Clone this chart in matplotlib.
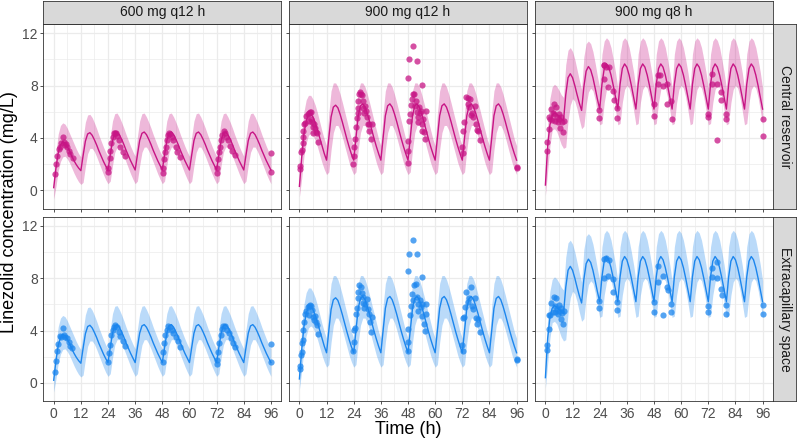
import numpy as np
import matplotlib
matplotlib.use("Agg")
import matplotlib.pyplot as plt

plt.rcParams["font.family"] = ["Liberation Sans", "DejaVu Sans"]

regimens = ["600 mg q12 h", "900 mg q12 h", "900 mg q8 h"]
compartments = ["Central reservoir", "Extracapillary space"]

# model prediction grid (h)
model_time_h = np.arange(0, 97)

# 600 mg q12 h: median and 90% band (mg/L), hourly
med_600_q12 = [
    0.2, 1.7, 2.85, 3.45, 3.7, 3.6, 3.35, 3.0, 2.6, 2.25, 1.95, 1.7,
    1.5, 2.65, 3.75, 4.3, 4.4, 4.2, 3.85, 3.45, 3.0, 2.6, 2.2, 1.85,
    1.55, 2.7, 3.8, 4.35, 4.45, 4.25, 3.9, 3.5, 3.05, 2.65, 2.25, 1.9,
    1.55, 2.7, 3.8, 4.35, 4.45, 4.25, 3.9, 3.5, 3.05, 2.65, 2.25, 1.9,
    1.55, 2.7, 3.8, 4.35, 4.45, 4.25, 3.9, 3.5, 3.05, 2.65, 2.25, 1.9,
    1.55, 2.7, 3.8, 4.35, 4.45, 4.25, 3.9, 3.5, 3.05, 2.65, 2.25, 1.9,
    1.55, 2.7, 3.8, 4.35, 4.45, 4.25, 3.9, 3.5, 3.05, 2.65, 2.25, 1.9,
    1.55, 2.7, 3.8, 4.35, 4.45, 4.25, 3.9, 3.5, 3.05, 2.65, 2.25, 1.9,
    1.55,
]
lo_600_q12 = [
    -0.7, 0.3, 1.5, 2.2, 2.55, 2.6, 2.4, 2.1, 1.7, 1.3, 0.95, 0.65,
    0.45, 0.6, 1.8, 2.8, 3.2, 3.2, 2.95, 2.55, 2.1, 1.65, 1.2, 0.8,
    0.5, 0.7, 1.9, 2.9, 3.3, 3.3, 3.0, 2.6, 2.15, 1.7, 1.25, 0.85,
    0.5, 0.7, 1.9, 2.9, 3.3, 3.3, 3.0, 2.6, 2.15, 1.7, 1.25, 0.85,
    0.5, 0.7, 1.9, 2.9, 3.3, 3.3, 3.0, 2.6, 2.15, 1.7, 1.25, 0.85,
    0.5, 0.7, 1.9, 2.9, 3.3, 3.3, 3.0, 2.6, 2.15, 1.7, 1.25, 0.85,
    0.5, 0.7, 1.9, 2.9, 3.3, 3.3, 3.0, 2.6, 2.15, 1.7, 1.25, 0.85,
    0.5, 0.7, 1.9, 2.9, 3.3, 3.3, 3.0, 2.6, 2.15, 1.7, 1.25, 0.85,
    0.5,
]
hi_600_q12 = [
    0.9, 2.9, 4.3, 4.95, 5.15, 5.05, 4.75, 4.35, 3.95, 3.55, 3.15, 2.8,
    2.55, 4.0, 5.2, 5.75, 5.8, 5.55, 5.15, 4.7, 4.2, 3.75, 3.3, 2.9,
    2.6, 4.1, 5.3, 5.85, 5.9, 5.6, 5.2, 4.75, 4.25, 3.8, 3.35, 2.95,
    2.6, 4.1, 5.3, 5.85, 5.9, 5.6, 5.2, 4.75, 4.25, 3.8, 3.35, 2.95,
    2.6, 4.1, 5.3, 5.85, 5.9, 5.6, 5.2, 4.75, 4.25, 3.8, 3.35, 2.95,
    2.6, 4.1, 5.3, 5.85, 5.9, 5.6, 5.2, 4.75, 4.25, 3.8, 3.35, 2.95,
    2.6, 4.1, 5.3, 5.85, 5.9, 5.6, 5.2, 4.75, 4.25, 3.8, 3.35, 2.95,
    2.6, 4.1, 5.3, 5.85, 5.9, 5.6, 5.2, 4.75, 4.25, 3.8, 3.35, 2.95,
    2.6,
]

# 900 mg q12 h
med_900_q12 = [
    0.3, 2.5, 4.3, 5.3, 5.8, 5.85, 5.6, 5.15, 4.6, 4.0, 3.4, 2.8,
    2.3, 4.0, 5.6, 6.35, 6.5, 6.3, 5.8, 5.2, 4.55, 3.9, 3.3, 2.75,
    2.3, 4.0, 5.7, 6.45, 6.6, 6.35, 5.85, 5.25, 4.6, 3.95, 3.35, 2.8,
    2.3, 4.0, 5.7, 6.45, 6.6, 6.35, 5.85, 5.25, 4.6, 3.95, 3.35, 2.8,
    2.3, 4.0, 5.7, 6.45, 6.6, 6.35, 5.85, 5.25, 4.6, 3.95, 3.35, 2.8,
    2.3, 4.0, 5.7, 6.45, 6.6, 6.35, 5.85, 5.25, 4.6, 3.95, 3.35, 2.8,
    2.3, 4.0, 5.7, 6.45, 6.6, 6.35, 5.85, 5.25, 4.6, 3.95, 3.35, 2.8,
    2.3, 4.0, 5.7, 6.45, 6.6, 6.35, 5.85, 5.25, 4.6, 3.95, 3.35, 2.8,
    2.3,
]
lo_900_q12 = [
    -0.5, 0.9, 2.6, 3.6, 4.2, 4.35, 4.2, 3.8, 3.3, 2.7, 2.1, 1.6,
    1.2, 1.4, 3.1, 4.4, 4.95, 4.95, 4.6, 4.05, 3.4, 2.75, 2.1, 1.6,
    1.2, 1.4, 3.1, 4.4, 4.95, 4.95, 4.6, 4.05, 3.4, 2.75, 2.1, 1.6,
    1.2, 1.4, 3.1, 4.4, 4.95, 4.95, 4.6, 4.05, 3.4, 2.75, 2.1, 1.6,
    1.2, 1.4, 3.1, 4.4, 4.95, 4.95, 4.6, 4.05, 3.4, 2.75, 2.1, 1.6,
    1.2, 1.4, 3.1, 4.4, 4.95, 4.95, 4.6, 4.05, 3.4, 2.75, 2.1, 1.6,
    1.2, 1.4, 3.1, 4.4, 4.95, 4.95, 4.6, 4.05, 3.4, 2.75, 2.1, 1.6,
    1.2, 1.4, 3.1, 4.4, 4.95, 4.95, 4.6, 4.05, 3.4, 2.75, 2.1, 1.6,
    1.2,
]
hi_900_q12 = [
    1.2, 4.2, 6.0, 6.9, 7.25, 7.25, 6.95, 6.5, 5.9, 5.2, 4.5, 3.9,
    3.4, 5.9, 7.6, 8.2, 8.2, 7.9, 7.35, 6.7, 6.0, 5.3, 4.6, 3.9,
    3.4, 5.9, 7.6, 8.2, 8.2, 7.9, 7.35, 6.7, 6.0, 5.3, 4.6, 3.9,
    3.4, 5.9, 7.6, 8.2, 8.2, 7.9, 7.35, 6.7, 6.0, 5.3, 4.6, 3.9,
    3.4, 5.9, 7.6, 8.2, 8.2, 7.9, 7.35, 6.7, 6.0, 5.3, 4.6, 3.9,
    3.4, 5.9, 7.6, 8.2, 8.2, 7.9, 7.35, 6.7, 6.0, 5.3, 4.6, 3.9,
    3.4, 5.9, 7.6, 8.2, 8.2, 7.9, 7.35, 6.7, 6.0, 5.3, 4.6, 3.9,
    3.4, 5.9, 7.6, 8.2, 8.2, 7.9, 7.35, 6.7, 6.0, 5.3, 4.6, 3.9,
    3.4,
]

# 900 mg q8 h
med_900_q8 = [
    0.4, 3.4, 5.0, 5.7, 5.9, 5.8, 5.6, 5.45,
    5.3, 7.3, 8.6, 8.9, 8.6, 8.0, 7.3, 6.65,
    6.1, 7.9, 9.1, 9.45, 9.2, 8.6, 7.8, 6.95,
    6.2, 8.1, 9.3, 9.65, 9.4, 8.8, 8.0, 7.1,
    6.2, 8.1, 9.3, 9.65, 9.4, 8.8, 8.0, 7.1,
    6.2, 8.1, 9.3, 9.65, 9.4, 8.8, 8.0, 7.1,
    6.2, 8.1, 9.3, 9.65, 9.4, 8.8, 8.0, 7.1,
    6.2, 8.1, 9.3, 9.65, 9.4, 8.8, 8.0, 7.1,
    6.2, 8.1, 9.3, 9.65, 9.4, 8.8, 8.0, 7.1,
    6.2, 8.1, 9.3, 9.65, 9.4, 8.8, 8.0, 7.1,
    6.2, 8.1, 9.3, 9.65, 9.4, 8.8, 8.0, 7.1,
    6.2, 8.1, 9.3, 9.65, 9.4, 8.8, 8.0, 7.1,
    6.2,
]
lo_900_q8 = [
    -0.4, 1.5, 3.4, 4.6, 4.7, 4.5, 4.0, 3.5,
    3.2, 3.3, 5.3, 6.5, 7.0, 6.8, 6.2, 5.4,
    4.7, 4.9, 6.5, 7.5, 7.8, 7.6, 6.9, 5.9,
    5.0, 5.1, 6.7, 7.7, 8.0, 7.8, 7.1, 6.1,
    5.0, 5.1, 6.7, 7.7, 8.0, 7.8, 7.1, 6.1,
    5.0, 5.1, 6.7, 7.7, 8.0, 7.8, 7.1, 6.1,
    5.0, 5.1, 6.7, 7.7, 8.0, 7.8, 7.1, 6.1,
    5.0, 5.1, 6.7, 7.7, 8.0, 7.8, 7.1, 6.1,
    5.0, 5.1, 6.7, 7.7, 8.0, 7.8, 7.1, 6.1,
    5.0, 5.1, 6.7, 7.7, 8.0, 7.8, 7.1, 6.1,
    5.0, 5.1, 6.7, 7.7, 8.0, 7.8, 7.1, 6.1,
    5.0, 5.1, 6.7, 7.7, 8.0, 7.8, 7.1, 6.1,
    5.0,
]
hi_900_q8 = [
    1.2, 5.0, 7.0, 7.9, 8.1, 7.95, 7.65, 7.3,
    7.1, 9.6, 10.7, 10.9, 10.6, 10.0, 9.2, 8.4,
    7.7, 10.2, 11.2, 11.4, 11.2, 10.6, 9.7, 8.7,
    7.8, 10.4, 11.4, 11.65, 11.45, 10.9, 10.0, 9.0,
    7.8, 10.4, 11.4, 11.65, 11.45, 10.9, 10.0, 9.0,
    7.8, 10.4, 11.4, 11.65, 11.45, 10.9, 10.0, 9.0,
    7.8, 10.4, 11.4, 11.65, 11.45, 10.9, 10.0, 9.0,
    7.8, 10.4, 11.4, 11.65, 11.45, 10.9, 10.0, 9.0,
    7.8, 10.4, 11.4, 11.65, 11.45, 10.9, 10.0, 9.0,
    7.8, 10.4, 11.4, 11.65, 11.45, 10.9, 10.0, 9.0,
    7.8, 10.4, 11.4, 11.65, 11.45, 10.9, 10.0, 9.0,
    7.8, 10.4, 11.4, 11.65, 11.45, 10.9, 10.0, 9.0,
    7.8,
]

# observed concentrations (time h, conc mg/L)
obs_600_q12_central_t = [
    0.44, 1.03, 1.47, 2.2, 2.65, 3.39, 3.97, 4.4, 4.85, 5.4, 5.9, 6.6, 7.4, 8.4,
    24.0, 24.1, 24.7, 25.0, 25.4, 26.0, 26.5, 26.9, 27.5, 27.9, 28.7, 29.4, 30.6, 31.6,
    48.1, 48.4, 48.8, 49.1, 49.5, 50.0, 50.5, 51.0, 51.6, 52.2, 52.9, 54.0, 54.7, 55.9,
    72.0, 72.3, 72.8, 73.2, 73.6, 74.1, 74.5, 75.1, 75.7, 76.3, 77.0, 77.9, 78.9, 80.0,
    96, 96,
]
obs_600_q12_central_c = [
    1.27, 2.04, 2.65, 3.16, 3.34, 3.6, 4.05, 3.72, 3.47, 3.55, 3.34, 3.03, 2.77, 2.49,
    1.4, 1.68, 2.5, 3.03, 3.6, 4.1, 4.36, 4.41, 4.36, 4.15, 3.85, 3.34, 2.96, 2.62,
    1.35, 1.73, 2.38, 2.89, 3.34, 3.85, 4.24, 4.41, 4.31, 4.1, 3.85, 3.34, 2.96, 2.57,
    1.3, 1.68, 2.38, 2.89, 3.34, 3.85, 4.24, 4.49, 4.36, 4.1, 3.85, 3.39, 3.03, 2.67,
    2.83, 1.43,
]
obs_600_q12_extra_t = [
    0.44, 1.03, 1.47, 2.05, 2.65, 3.4, 3.97, 4.4, 5.1, 5.9, 6.6, 7.4, 8.1,
    24.0, 24.3, 24.7, 25.4, 26.0, 26.7, 27.3, 27.9, 28.7, 29.4, 30.5, 31.6,
    48.1, 48.4, 48.8, 49.4, 50.0, 50.7, 51.5, 52.2, 52.9, 54.0, 54.8, 55.9,
    72.0, 72.3, 72.8, 73.2, 73.8, 74.4, 75.0, 75.7, 76.4, 77.3, 78.2, 79.1, 80.0,
    96, 96,
]
obs_600_q12_extra_c = [
    0.82, 1.70, 2.47, 2.98, 3.6, 3.53, 4.17, 3.66, 3.53, 3.41, 3.15, 2.82, 2.64,
    1.63, 2.27, 2.9, 3.66, 4.04, 4.3, 4.42, 4.3, 3.92, 3.59, 3.23, 2.82,
    1.63, 2.39, 3.03, 3.66, 4.04, 4.35, 4.25, 4.04, 3.84, 3.48, 3.23, 2.72,
    1.45, 1.76, 2.39, 3.03, 3.66, 4.09, 4.35, 4.35, 4.04, 3.79, 3.41, 3.08, 2.72,
    2.98, 1.63,
]

obs_900_q12_central_t = [
    0.44, 0.44, 0.9, 1.0, 1.5, 1.76, 1.76, 2.2, 2.6, 2.9, 3.7, 4.1, 4.4, 4.7, 5.1,
    5.3, 5.6, 5.9, 6.2, 6.6, 7.1, 7.35, 7.8, 8.1,
    23.6, 24.0, 24.3, 24.7, 25.0, 25.3, 25.7, 25.7, 26.0, 26.5, 26.9, 27.4, 27.6,
    27.9, 28.2, 28.7, 29.1, 29.4, 29.9, 30.1, 30.6, 30.9, 31.6, 32.1,
    47.9, 48.1, 48.2, 48.5, 48.8, 49.3, 49.7, 50.3, 50.7, 51.2, 51.5, 51.9, 52.2,
    52.6, 52.9, 53.2, 53.7, 54.1, 54.4, 54.7, 55.1, 55.6, 55.9,
    48.0, 48.4, 50.0, 51.9, 54.0,
    71.8, 72.1, 72.1, 72.8, 73.5, 74.3, 74.7, 75.0, 75.4, 75.7, 76.2, 76.8, 77.6,
    77.9, 78.7, 79.1, 79.9,
    96, 96,
]
obs_900_q12_central_c = [
    1.63, 1.88, 2.9, 3.08, 3.59, 4.05, 4.56, 5.07, 5.12, 5.7, 5.83, 5.32, 5.88, 5.96, 6.01,
    5.45, 5.2, 4.81, 4.4, 5.07, 4.74, 4.43, 4.35, 3.71,
    2.0, 2.64, 3.33, 3.92, 4.81, 5.53, 5.88, 6.26, 6.85, 7.36, 7.49, 7.36, 7.31,
    6.8, 6.26, 5.88, 6.47, 6.04, 5.58, 5.07, 5.07, 4.56, 3.92, 5.04,
    2.06, 3.03, 3.79, 5.32, 5.83, 6.52, 6.98, 7.36, 7.36, 6.47, 6.85, 5.96, 5.58,
    5.2, 6.34, 5.88, 6.09, 5.07, 4.56, 5.45, 4.43, 3.92, 6.04,
    8.6, 10.04, 11.0, 9.86, 8.07,
    3.29, 2.83, 4.5, 5.2, 7.16, 6.6, 7.06, 6.34, 6.98, 5.76, 5.88, 5.58, 6.47,
    5.07, 4.61, 4.5, 3.84,
    1.8, 1.7,
]
obs_900_q12_extra_t = [
    0.44, 0.44, 0.9, 1.0, 1.2, 1.5, 1.8, 2.2, 2.6, 2.9, 3.7, 4.1, 4.4, 4.7, 5.1,
    5.6, 5.9, 6.3, 6.8, 7.35, 7.8, 8.1,
    23.6, 24.0, 24.3, 24.7, 25.0, 25.4, 25.7, 26.0, 26.5, 27.2, 27.6, 27.9, 28.2,
    28.7, 29.1, 29.7, 30.1, 30.6, 31.2, 31.6, 32.1,
    47.9, 48.1, 48.2, 48.8, 49.3, 49.7, 50.3, 50.7, 51.5, 51.9, 52.2, 52.6, 53.2,
    53.7, 54.1, 54.4, 54.9, 55.6, 55.9, 55.9,
    48.0, 48.4, 50.0, 51.9, 54.0,
    71.8, 72.1, 72.1, 72.8, 73.2, 73.5, 74.3, 75.0, 75.7, 76.2, 76.8, 77.6, 77.9,
    78.7, 79.1, 79.9,
    96, 96,
]
obs_900_q12_extra_c = [
    1.09, 1.27, 2.11, 2.37, 3.05, 3.26, 4.02, 4.66, 5.29, 5.5, 5.8, 5.17, 5.85, 5.93, 5.85,
    5.55, 5.04, 4.78, 5.09, 4.66, 4.4, 3.72,
    2.41, 3.13, 4.02, 4.22, 5.29, 5.75, 6.51, 6.94, 7.45, 7.33, 6.87, 6.56, 6.11,
    5.75, 6.0, 6.44, 5.67, 5.24, 4.66, 3.9, 5.04,
    2.41, 3.13, 4.15, 5.17, 5.85, 6.82, 6.31, 7.51, 7.58, 6.56, 6.0, 5.5, 6.36,
    5.8, 5.09, 6.0, 4.53, 3.95, 6.0, 5.29,
    8.55, 9.87, 10.94, 9.82, 8.09,
    2.87, 2.41, 4.99, 5.04, 5.8, 6.94, 6.18, 6.51, 7.33, 5.85, 5.67, 6.51, 4.99,
    4.48, 4.91, 3.9,
    1.85, 1.72,
]

obs_900_q8_central_t = [
    0.7, 0.7, 1.8, 1.8, 2.2, 2.6, 2.9, 3.2, 3.7, 4.0, 4.4, 4.7, 5.1, 5.6, 5.9,
    6.2, 6.6, 7.1, 7.35, 7.8, 8.1,
    23.8, 23.8, 25.7, 25.7, 26.0, 26.8, 27.6, 27.9, 29.7, 30.1, 31.6, 31.6,
    47.8, 47.8, 49.7, 49.7, 50.7, 51.9, 53.8, 53.7, 55.6, 55.9,
    71.8, 71.8, 73.5, 73.5, 75.7, 75.7, 77.6, 77.6, 79.7, 79.7,
    96, 96,
]
obs_900_q8_central_c = [
    3.0, 3.67, 4.68, 5.58, 5.45, 6.21, 5.37, 5.88, 6.6, 5.83, 5.32, 6.39, 5.63, 5.2, 5.83,
    5.45, 4.76, 5.58, 5.2, 4.43, 5.27,
    6.16, 5.5, 9.6, 8.5, 9.6, 9.45, 7.87, 9.4, 7.56, 6.9, 6.29, 5.5,
    6.6, 5.68, 8.78, 8.15, 8.78, 8.0, 8.15, 6.6, 6.82, 5.45,
    5.83, 5.58, 8.9, 8.1, 8.1, 3.86, 7.48, 6.9, 5.83, 5.45,
    5.45, 4.17,
]
obs_900_q8_extra_t = [
    0.7, 0.7, 1.8, 1.8, 2.2, 2.6, 3.2, 3.7, 4.1, 4.4, 4.9, 5.1, 5.6, 5.9, 6.2,
    6.8, 7.1, 7.35, 7.8, 8.1,
    23.8, 23.8, 25.7, 25.7, 26.8, 27.9, 27.6, 29.7, 29.7, 31.6, 31.6,
    47.8, 47.8, 49.7, 49.7, 51.8, 51.8, 53.7, 54.0, 55.6, 55.6,
    71.8, 71.8, 73.5, 73.8, 75.7, 75.7, 77.6, 77.9, 79.7, 79.7,
    96, 96,
]
obs_900_q8_extra_c = [
    2.54, 2.87, 4.15, 5.17, 5.17, 6.11, 5.42, 6.56, 5.85, 5.42, 6.51, 5.67, 5.29, 5.93, 5.5,
    4.91, 5.75, 5.34, 4.48, 5.5,
    6.26, 5.75, 9.49, 8.02, 9.57, 9.36, 8.14, 7.96, 6.94, 6.18, 5.55,
    6.18, 5.42, 8.9, 7.71, 8.14, 5.21, 7.33, 7.12, 6.0, 5.42,
    5.85, 5.42, 8.8, 8.09, 9.23, 8.04, 7.2, 6.69, 5.93, 5.29,
    5.93, 5.24,
]

model = {
    "600 mg q12 h": (med_600_q12, lo_600_q12, hi_600_q12),
    "900 mg q12 h": (med_900_q12, lo_900_q12, hi_900_q12),
    "900 mg q8 h": (med_900_q8, lo_900_q8, hi_900_q8),
}
observed = {
    ("Central reservoir", "600 mg q12 h"): (obs_600_q12_central_t, obs_600_q12_central_c),
    ("Central reservoir", "900 mg q12 h"): (obs_900_q12_central_t, obs_900_q12_central_c),
    ("Central reservoir", "900 mg q8 h"): (obs_900_q8_central_t, obs_900_q8_central_c),
    ("Extracapillary space", "600 mg q12 h"): (obs_600_q12_extra_t, obs_600_q12_extra_c),
    ("Extracapillary space", "900 mg q12 h"): (obs_900_q12_extra_t, obs_900_q12_extra_c),
    ("Extracapillary space", "900 mg q8 h"): (obs_900_q8_extra_t, obs_900_q8_extra_c),
}
colors = {"Central reservoir": "#C71585", "Extracapillary space": "#1C86EE"}

W, H = 797, 442
fig = plt.figure(figsize=(W / 100, H / 100), dpi=100)


def px_box(x0, y0, w, h):
    return [x0 / W, 1 - (y0 + h) / H, w / W, h / H]


panel_left = [43.3, 289.0, 535.0]
panel_w = 238.0
row_top = [24.0, 216.6]
panel_h = 184.6
border = "#333333"

for r, comp in enumerate(compartments):
    col = colors[comp]
    for c, reg in enumerate(regimens):
        ax = fig.add_axes(px_box(panel_left[c], row_top[r], panel_w, panel_h))
        med, lo, hi = model[reg]
        ax.fill_between(model_time_h, lo, hi, color=col, alpha=0.3, lw=0, zorder=1)
        ax.plot(model_time_h, med, color=col, lw=1.0, zorder=2)
        t_obs, c_obs = observed[(comp, reg)]
        ax.scatter(t_obs, c_obs, s=20, color=col, alpha=0.75, lw=0, zorder=3)

        ax.set_xlim(-4.6, 100.6)
        ax.set_ylim(-1.4, 12.7)
        ax.set_xticks(range(0, 97, 12))
        ax.set_xticks(range(6, 97, 12), minor=True)
        ax.set_yticks([0, 4, 8, 12])
        ax.set_yticks([2, 6, 10], minor=True)
        ax.grid(which="major", color="#EBEBEB", lw=0.9)
        ax.grid(which="minor", color="#EBEBEB", lw=0.5)
        ax.set_axisbelow(True)
        ax.tick_params(which="minor", length=0)
        ax.tick_params(which="major", length=2.5, width=0.6, color=border,
                       labelsize=10, labelcolor="#4D4D4D", pad=1.5)
        if c > 0:
            ax.tick_params(axis="y", labelleft=False)
        if r == 0:
            ax.tick_params(axis="x", labelbottom=False)
        for sp in ax.spines.values():
            sp.set_color(border)
            sp.set_linewidth(0.6)

        if r == 0:
            sax = fig.add_axes(px_box(panel_left[c], 0.5, panel_w, 23.5))
            sax.set_facecolor("#D9D9D9")
            sax.set_xticks([])
            sax.set_yticks([])
            for sp in sax.spines.values():
                sp.set_color(border)
                sp.set_linewidth(0.6)
            sax.text(0.5, 0.5, reg, ha="center", va="center", fontsize=10,
                     color="#1A1A1A", transform=sax.transAxes)

    rax = fig.add_axes(px_box(773.3, row_top[r], 23.2, panel_h))
    rax.set_facecolor("#D9D9D9")
    rax.set_xticks([])
    rax.set_yticks([])
    for sp in rax.spines.values():
        sp.set_color(border)
        sp.set_linewidth(0.6)
    rax.text(0.5, 0.5, comp, ha="center", va="center", fontsize=10, rotation=-90,
             color="#1A1A1A", transform=rax.transAxes)

fig.text(408 / W, 1 - 430 / H, "Time (h)", ha="center", va="center", fontsize=13)
fig.text(10 / W, 1 - 212.5 / H, "Linezolid concentration (mg/L)", ha="center",
         va="center", rotation=90, fontsize=13)

fig.savefig("out.png", dpi=100)
